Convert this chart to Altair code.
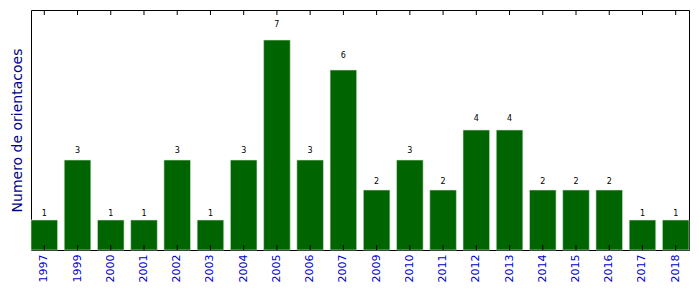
import altair as alt
import pandas as pd

years = ["1997", "1999", "2000", "2001", "2002", "2003", "2004", "2005", "2006", "2007",
         "2009", "2010", "2011", "2012", "2013", "2014", "2015", "2016", "2017", "2018"]
counts = [1, 3, 1, 1, 3, 1, 3, 7, 3, 6, 2, 3, 2, 4, 4, 2, 2, 2, 1, 1]

df = pd.DataFrame({"year": years, "n": counts})

F = "DejaVu Sans"
xs = alt.Scale(domain=years, paddingInner=0.2, paddingOuter=0)
ys = alt.Scale(domain=[0, 8], nice=False)

x_enc = alt.X("year:N", scale=xs, sort=years,
              axis=alt.Axis(title=None, labelAngle=-90, labelAlign="right", labelBaseline="middle",
                            labelColor="#0000cc", labelFont=F, labelFontSize=11, labelPadding=4,
                            ticks=False, domain=False))

base = alt.Chart(df)

bars = base.mark_bar(color="#006400", stroke="#d8e8d8", strokeWidth=0.6).encode(
    x=x_enc,
    y=alt.Y("n:Q", scale=ys,
            axis=alt.Axis(title="Numero de orientacoes", titleColor="#00008b", titleFont=F,
                          titleFontSize=14, titleFontWeight="normal", titlePadding=7,
                          labels=False, ticks=False, domain=False, grid=False)),
)

labels = base.transform_calculate(ly="datum.n * 1.05").mark_text(
    baseline="bottom", fontSize=8, font=F, color="black", dy=-1
).encode(x=alt.X("year:N", scale=xs, sort=years), y=alt.Y("ly:Q", scale=ys), text="n:Q")

ticks_bottom = base.mark_rule(color="black", strokeWidth=1).encode(
    x=alt.X("year:N", scale=xs, sort=years), y=alt.value(240), y2=alt.value(235))
ticks_top = base.mark_rule(color="black", strokeWidth=1).encode(
    x=alt.X("year:N", scale=xs, sort=years), y=alt.value(0), y2=alt.value(5))

chart = alt.layer(bars, labels, ticks_bottom, ticks_top).properties(
    width=658, height=240,
    background="white",
    autosize=alt.AutoSizeParams(type="none"),
    padding={"left": 31, "top": 10, "right": 10, "bottom": 42},
).configure_view(stroke="black", strokeWidth=1)

chart.save("out.html", embed_options={"renderer": "svg", "actions": False})
